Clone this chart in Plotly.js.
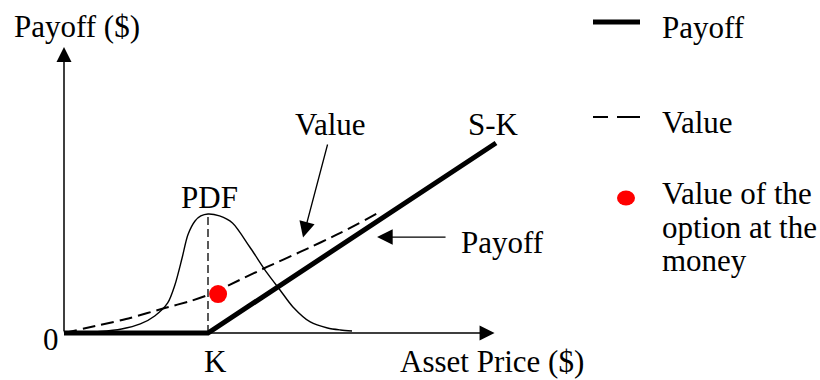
<!DOCTYPE html>
<html><head><meta charset="utf-8">
<script src="https://cdn.plot.ly/plotly-3.0.1.min.js"></script>
<style>html,body{margin:0;padding:0;background:#fff;} #chart{width:820px;height:380px;}</style>
</head><body><div id="chart"></div>
<script>
// ---- data (asset price S, with strike K = 100) ----
const strikeK = 100;
const payoffPrice = [0, 100, 300];
const payoffValue = [0, 0, 200];
const valuePrice = [0, 25, 46, 70, 88, 100, 122, 141, 164, 192, 218];
const valueValue = [0, 8.4, 15.8, 26.3, 33.7, 40, 55.8, 69.5, 85.3, 105.3, 126.3];
const pdfPrice = [0, 25, 40, 53, 63, 72, 77, 82, 86, 91, 95, 100, 108, 117, 129, 141, 150, 159, 171, 183, 192, 200];
const pdfDensity = [0, 1.6, 4.2, 9.5, 17.9, 31.6, 50.5, 78.9, 103.2, 117.9, 123.2, 125.3, 123.2, 115.8, 90.5, 63.2, 45.3, 27.4, 11.6, 5.3, 3.2, 2.1];
const atmPrice = [107];
const atmValue = [41];
const legendLabels = ['Payoff', 'Value', ['Value of the', 'option at the', 'money']];

const FONT = 'Liberation Serif, "Times New Roman", Times, serif';
const W = 820, H = 380;
const px = v => v / W, py = v => 1 - v / H;
const pdfPeak = Math.max(...pdfDensity);

const traces = [
  {x: pdfPrice, y: pdfDensity, mode: 'lines', line: {color: '#000', width: 1.4, shape: 'spline', smoothing: 0.8}, hoverinfo: 'skip'},
  {x: [strikeK, strikeK], y: [0, pdfPeak], mode: 'lines', line: {color: '#000', width: 1.3, dash: '8px,4px'}, hoverinfo: 'skip'},
  {x: valuePrice, y: valueValue, mode: 'lines', line: {color: '#000', width: 2, dash: '13px,6px', shape: 'spline', smoothing: 0.6}, name: legendLabels[1]},
  {x: payoffPrice, y: payoffValue, mode: 'lines', line: {color: '#000', width: 5}, name: legendLabels[0]},
  {x: atmPrice, y: atmValue, mode: 'markers', marker: {color: '#ff0000', size: 18, line: {width: 0}}, name: 'ATM'}
];

function txt(t, x, y, anchor) {
  return {text: t, xref: 'paper', yref: 'paper', x: px(x), y: py(y), xanchor: anchor || 'center', yanchor: 'middle',
    showarrow: false, font: {family: FONT, size: 31, color: '#000'}};
}
function arr(x, y, ax, ay, w, s) {
  return {text: '', xref: 'x', yref: 'y', axref: 'x', ayref: 'y', x: x, y: y, ax: ax, ay: ay,
    showarrow: true, arrowhead: 2, arrowwidth: w, arrowsize: s, arrowcolor: '#000'};
}

const annotations = [
  arr(0, 301, 0, 0, 1.5, 2),
  arr(299, 0, 0, 0, 1.5, 2),
  arr(166, 100.6, 183.3, 200, 1.3, 2.4),
  arr(217.4, 101, 266, 101, 1.3, 2.4),
  txt('Payoff ($)', 76.5, 26.5),
  txt('0', 50.5, 339.5),
  txt('K', 215, 361.5),
  txt('Asset Price ($)', 491.5, 361.5),
  txt('PDF', 209, 197.5),
  txt('Value', 330.5, 124.5),
  txt('S-K', 493, 124.5),
  txt('Payoff', 502.5, 242.5),
  txt(legendLabels[0], 660, 27.5, 'left'),
  txt(legendLabels[1], 660, 122.5, 'left'),
  txt(legendLabels[2][0], 660, 193.5, 'left'),
  txt(legendLabels[2][1], 660, 227.5, 'left'),
  txt(legendLabels[2][2], 660, 260.5, 'left')
];

const shapes = [
  {type: 'line', xref: 'paper', yref: 'paper', x0: px(593), x1: px(640), y0: py(22), y1: py(22), line: {color: '#000', width: 5}},
  {type: 'line', xref: 'paper', yref: 'paper', x0: px(593), x1: px(640), y0: py(117), y1: py(117), line: {color: '#000', width: 1.8, dash: '15px,9px,23px,9px'}},
  {type: 'circle', xref: 'paper', yref: 'paper', x0: px(617), x1: px(635), y0: py(190.5), y1: py(205.5), fillcolor: '#ff0000', line: {width: 0}}
];

const layout = {
  width: W, height: H, margin: {l: 0, r: 0, t: 0, b: 0},
  paper_bgcolor: '#fff', plot_bgcolor: '#fff', showlegend: false,
  xaxis: {range: [-44.444, 525], visible: false, fixedrange: true},
  yaxis: {range: [-49.474, 350.526], visible: false, fixedrange: true},
  annotations: annotations, shapes: shapes
};

Plotly.newPlot('chart', traces, layout, {displayModeBar: false, staticPlot: true});
</script></body></html>
